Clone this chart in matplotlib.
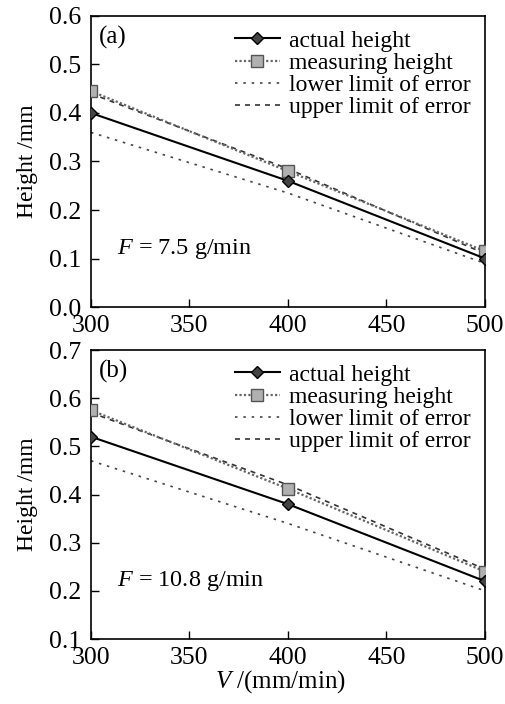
import matplotlib
matplotlib.use('Agg')
import matplotlib.pyplot as plt
from matplotlib.ticker import FormatStrFormatter, MultipleLocator

plt.rcParams['font.family'] = ['Liberation Serif', 'DejaVu Serif']
plt.rcParams['mathtext.fontset'] = 'custom'
plt.rcParams['mathtext.it'] = 'Liberation Serif:italic'
plt.rcParams['mathtext.rm'] = 'Liberation Serif'

speed = [300, 400, 500]

# panel (a), F = 7.5 g/min
actual_a = [0.40, 0.26, 0.10]
measuring_a = [0.445, 0.28, 0.115]
lower_a = [0.36, 0.235, 0.09]
upper_a = [0.44, 0.285, 0.11]

# panel (b), F = 10.8 g/min
actual_b = [0.52, 0.38, 0.22]
measuring_b = [0.575, 0.412, 0.24]
lower_b = [0.47, 0.34, 0.20]
upper_b = [0.57, 0.42, 0.245]

labels = ['actual height', 'measuring height', 'lower limit of error', 'upper limit of error']

fig = plt.figure(figsize=(5.06, 7.04), dpi=100)
ax_a = fig.add_axes([0.1798, 0.5639, 0.7787, 0.4134])
ax_b = fig.add_axes([0.1798, 0.0923, 0.7787, 0.4105])


def draw(ax, actual, measuring, lower, upper, tag, flow, ylim):
    ax.plot(speed, actual, color='black', lw=1.5, marker='D', ms=6.5,
            mfc='#444444', mec='black', label=labels[0], zorder=4)
    ax.plot(speed, measuring, color='#666666', lw=1.6, ls=(0, (1, 1)), marker='s', ms=9,
            mfc='#b0b0b0', mec='#555555', label=labels[1], zorder=3)
    ax.plot(speed, lower, color='#444444', lw=1.2, ls=(0, (1.5, 3.5)), label=labels[2])
    ax.plot(speed, upper, color='#333333', lw=1.2, ls=(0, (3, 3)), label=labels[3])
    ax.set_xlim(300, 500)
    ax.set_ylim(*ylim)
    ax.xaxis.set_major_locator(MultipleLocator(50))
    ax.yaxis.set_major_locator(MultipleLocator(0.1))
    ax.yaxis.set_major_formatter(FormatStrFormatter('%.1f'))
    ax.tick_params(direction='in', length=6, width=1, labelsize=18.5, top=False, right=False)
    ax.tick_params(axis='y', pad=7)
    ax.tick_params(axis='x', pad=6)
    for s in ax.spines.values():
        s.set_linewidth(1.2)
    ax.set_ylabel('Height /mm', fontsize=17, labelpad=8)
    ax.text(0.02, 0.965, tag, transform=ax.transAxes, fontsize=18, va='top', ha='left')
    ax.text(0.066, 0.2, flow, transform=ax.transAxes, fontsize=17.5, va='center', ha='left')
    ax.legend(loc='upper right', fontsize=17, frameon=False, handlelength=1.9,
              handletextpad=0.4, labelspacing=0.03, borderaxespad=0.2,
              bbox_to_anchor=(1.0, 1.0))


draw(ax_a, actual_a, measuring_a, lower_a, upper_a, '(a)', '$F$ = 7.5 g/min', (0.0, 0.6))
draw(ax_b, actual_b, measuring_b, lower_b, upper_b, '(b)', '$F$ = 10.8 g/min', (0.1, 0.7))
ax_b.set_xlabel('$V$ /(mm/min)', fontsize=18, labelpad=4)
ax_b.xaxis.set_label_coords(0.48, -0.1)

fig.savefig('out.png', dpi=100)
